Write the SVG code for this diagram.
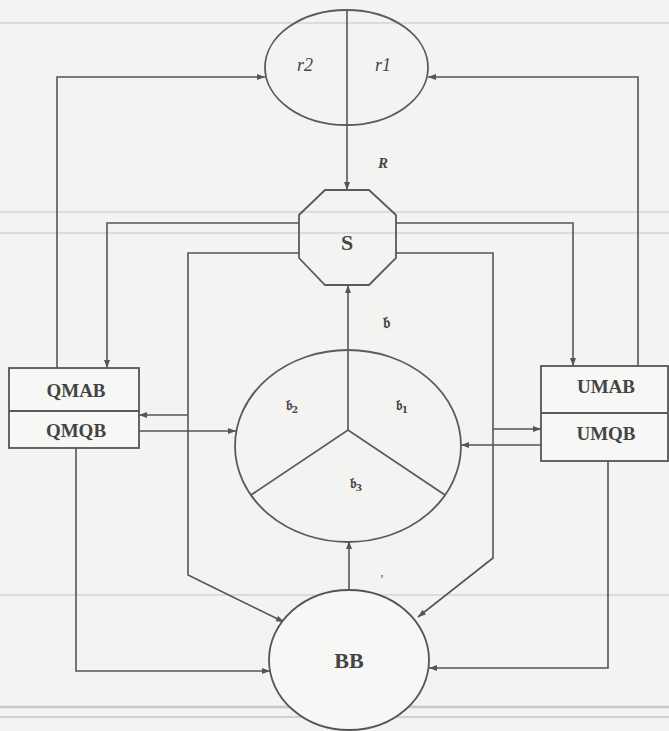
<svg xmlns="http://www.w3.org/2000/svg" width="669" height="731" viewBox="0 0 669 731">
<style>
.ln{fill:none;stroke:#555;stroke-width:1.6}
.sh{fill:none;stroke:#5a5a5a;stroke-width:1.8}
.bx{fill:#f7f7f5;stroke:#555;stroke-width:1.8}
.lbl{font-family:"Liberation Serif","DejaVu Serif",serif;font-weight:bold;fill:#444;text-anchor:middle}
.it{font-family:"Liberation Serif","DejaVu Serif",serif;font-style:italic;fill:#444;text-anchor:middle}
.fk{font-family:"DejaVu Serif","DejaVu Sans","Noto Sans",serif;font-weight:bold;fill:#444;text-anchor:middle}
.scan{stroke:#dcdcda;stroke-width:2}
</style>
<defs>
<marker id="ar" markerUnits="userSpaceOnUse" markerWidth="10" markerHeight="8" refX="8" refY="3" orient="auto">
<path d="M0,0 L8,3 L0,6 z" fill="#555"/>
</marker>
</defs>
<rect width="669" height="731" fill="#f3f3f1"/>
<g id="scan">
<line class="scan" x1="0" y1="23" x2="669" y2="23"/>
<line class="scan" x1="0" y1="212" x2="669" y2="212"/>
<line class="scan" x1="0" y1="233" x2="669" y2="233"/>
<line class="scan" x1="0" y1="595" x2="669" y2="595"/>
<line x1="0" y1="707" x2="669" y2="707" stroke="#c8c8c6" stroke-width="2.5"/>
<line x1="0" y1="717" x2="669" y2="717" stroke="#d2d2d0" stroke-width="2"/>
</g>
<g id="connectors">
<line class="ln" x1="347" y1="10" x2="347" y2="190" marker-end="url(#ar)"/>
<polyline class="ln" points="57,368 57,77 265,77" marker-end="url(#ar)"/>
<polyline class="ln" points="638,366 638,77 428,77" marker-end="url(#ar)"/>
<polyline class="ln" points="299,223 107,223 107,368" marker-end="url(#ar)"/>
<polyline class="ln" points="396,223 573,223 573,366" marker-end="url(#ar)"/>
<polyline class="ln" points="299,253 188,253 188,575 284,622" marker-end="url(#ar)"/>
<polyline class="ln" points="396,253 493,253 493,558 418,617" marker-end="url(#ar)"/>
<line class="ln" x1="188" y1="415" x2="139" y2="415" marker-end="url(#ar)"/>
<line class="ln" x1="493" y1="429" x2="541" y2="429" marker-end="url(#ar)"/>
<line class="ln" x1="139" y1="431" x2="236" y2="431" marker-end="url(#ar)"/>
<line class="ln" x1="541" y1="445" x2="461" y2="445" marker-end="url(#ar)"/>
<line class="ln" x1="348" y1="430" x2="348" y2="285" marker-end="url(#ar)"/>
<line class="ln" x1="349" y1="590" x2="349" y2="541" marker-end="url(#ar)"/>
<polyline class="ln" points="76,448 76,671 270,671" marker-end="url(#ar)"/>
<polyline class="ln" points="608,461 608,668 429,668" marker-end="url(#ar)"/>
</g>
<g id="R">
<ellipse class="sh" cx="346.5" cy="67.5" rx="81.5" ry="57.5"/>
<text class="it" x="305" y="71" font-size="18">r2</text>
<text class="it" x="383" y="71" font-size="18">r1</text>
<text class="it" x="383" y="168" font-size="15" font-weight="bold">R</text>
</g>
<g id="S">
<polygon class="sh" points="325,190 369,190 396,215 396,258 369,285 325,285 299,258 299,215"/>
<text class="lbl" x="347" y="250" font-size="22">S</text>
</g>
<g id="B">
<ellipse class="sh" cx="348" cy="446" rx="113" ry="96"/>
<polyline class="sh" points="251,495 348,430 445,495"/>
<text class="fk" x="386" y="328" font-size="16">𝔟</text>
<text class="fk" x="292" y="410" font-size="14">𝔟<tspan font-size="9" dy="3">2</tspan></text>
<text class="fk" x="402" y="410" font-size="14">𝔟<tspan font-size="9" dy="3">1</tspan></text>
<text class="fk" x="356" y="488" font-size="14">𝔟<tspan font-size="9" dy="3">3</tspan></text>
<text class="it" x="382" y="576" font-size="12">,</text>
</g>
<g id="QM">
<rect class="bx" x="9" y="368" width="130" height="80"/>
<line class="sh" x1="9" y1="411" x2="139" y2="411"/>
<text class="lbl" x="76" y="397" font-size="19">QMAB</text>
<text class="lbl" x="76" y="437" font-size="19">QMQB</text>
</g>
<g id="UM">
<rect class="bx" x="541" y="366" width="127" height="95"/>
<line class="sh" x1="541" y1="413" x2="668" y2="413"/>
<text class="lbl" x="606" y="393" font-size="19">UMAB</text>
<text class="lbl" x="606" y="440" font-size="19">UMQB</text>
</g>
<g id="BB">
<ellipse class="bx" cx="349" cy="660" rx="80" ry="70"/>
<text class="lbl" x="349" y="668" font-size="22">BB</text>
</g>
</svg>
